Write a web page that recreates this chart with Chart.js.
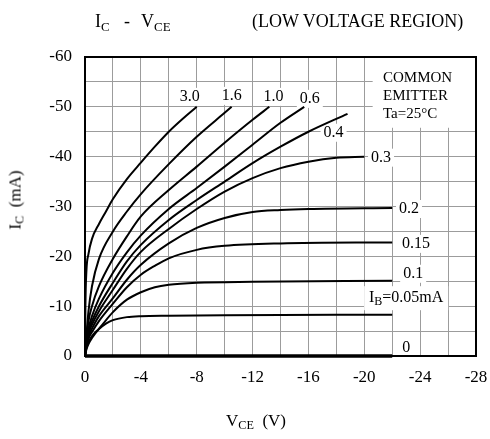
<!DOCTYPE html>
<html>
<head>
<meta charset="utf-8">
<script src="https://cdn.jsdelivr.net/npm/chart.js@4.4.1/dist/chart.umd.min.js"></script>
<style>
  body { margin: 0; background: #fff; }
  #wrap { position: relative; width: 490px; height: 439px; font-family: "Liberation Serif", "Times New Roman", serif; color: #000; }
  #wrap canvas { position: absolute; left: 0; top: 0; }
  .t { position: absolute; white-space: nowrap; line-height: 1; }
  .t sub { font-size: 72%; vertical-align: -0.28em; line-height: 0; }
  .title { font-size: 18px; top: 12px; }
  #ytitle { left: 15px; top: 200px; font-size: 17px; transform: translate(-50%, -50%) rotate(-90deg); }
  #xtitle { left: 256px; top: 420px; font-size: 17px; transform: translate(-50%, -50%); }
</style>
</head>
<body>
<div id="wrap">
  <canvas id="icChart" width="490" height="439"></canvas>
  <span class="t title" style="left:95px">I<sub>C</sub></span>
  <span class="t title" style="left:124px">-</span>
  <span class="t title" style="left:141px">V<sub>CE</sub></span>
  <span class="t title" style="left:252px">(LOW VOLTAGE REGION)</span>
  <span class="t" id="ytitle">I<sub>C</sub>&nbsp;&nbsp;(mA)</span>
  <span class="t" id="xtitle">V<sub>CE</sub>&nbsp;&nbsp;(V)</span>
</div>

<script>
// ===============================
// Data
// ===============================
const vce30 = [0, -0.03, -0.1, -0.25, -0.5, -1, -1.5, -2, -3, -4, -5, -6, -7, -8];
const ic30  = [0, -10, -17, -20.5, -23.5, -26.5, -29, -31.5, -35.5, -38.8, -42, -45, -47.6, -50];

const vce16 = [0, -0.1, -0.25, -0.5, -1, -2, -3, -4, -6, -8, -10, -10.5];
const ic16  = [0, -4, -9, -14, -19.5, -25, -29, -32.5, -38.5, -44, -48.8, -50];

const vce10 = [0, -0.1, -0.25, -0.5, -1, -2, -3, -4, -6, -8, -10, -12, -13.2];
const ic10  = [0, -3.5, -7, -10, -14, -19.5, -24, -28, -33.3, -38, -42.8, -47.4, -50];

const vce06 = [0, -0.1, -0.25, -0.5, -1, -2, -3, -4, -6, -8, -10, -12, -14, -15.7];
const ic06  = [0, -3, -5.5, -8, -11.5, -16.7, -20.8, -24.2, -29.5, -33.7, -38, -42.4, -46.8, -50];

const vce04 = [0, -0.1, -0.25, -0.5, -1, -2, -3, -4, -6, -8, -10, -12, -14, -16, -18.8];
const ic04  = [0, -2.7, -5, -7, -10, -14.7, -19, -22.3, -27.3, -31.3, -35, -38.7, -42, -45, -48.6];

const vce03 = [0, -0.1, -0.25, -0.5, -1, -2, -3, -4, -6, -8, -10, -12, -14, -16, -18, -20];
const ic03  = [0, -2.5, -4.5, -6.3, -9, -13.3, -17.5, -20.9, -25.5, -29.5, -33, -35.7, -37.7, -39, -39.8, -40];

const vce02 = [0, -0.1, -0.25, -0.5, -1, -2, -3, -4, -6, -8, -10, -12, -14, -16, -22];
const ic02  = [0, -2.3, -4, -5.5, -8, -11.6, -15.3, -18.3, -22.6, -25.7, -27.7, -28.9, -29.3, -29.5, -29.7];

const vce015 = [0, -0.1, -0.25, -0.5, -1, -2, -3, -4, -5, -6, -8, -10, -14, -22];
const ic015  = [0, -2, -3.5, -4.8, -7, -10.5, -13.8, -16.3, -18.1, -19.6, -21.3, -22.1, -22.6, -22.8];

const vce01 = [0, -0.1, -0.25, -0.5, -1, -2, -3, -4, -5, -6, -8, -12, -22];
const ic01  = [0, -1.6, -2.8, -4, -5.5, -8.8, -11.3, -12.8, -13.8, -14.3, -14.7, -14.9, -15.1];

const vce005 = [0, -0.1, -0.25, -0.5, -1, -1.5, -2, -3, -4, -6, -10, -22];
const ic005  = [0, -1.3, -2.4, -3.6, -5.4, -6.5, -7.2, -7.8, -8.0, -8.1, -8.2, -8.3];

const vce0 = [0, -22];
const ic0  = [0, 0];

// curve labels (IB in mA) and where they sit, in axis units
const curveLabels = ["3.0", "1.6", "1.0", "0.6", "0.4", "0.3", "0.2", "0.15", "0.1", "0"];
const labelVce    = [-7.5, -10.5, -13.5, -16.1, -17.8, -21.2, -23.2, -23.7, -23.5, -23];
const labelIc     = [-52, -52.2, -52, -51.6, -44.8, -39.8, -29.5, -22.5, -16.5, -1.6];

const legendLines = ["COMMON", "EMITTER", "Ta=25\u00B0C"];

const FONT = '"Liberation Serif", "Times New Roman", serif';

const series = [
  [vce30, ic30], [vce16, ic16], [vce10, ic10], [vce06, ic06], [vce04, ic04],
  [vce03, ic03], [vce02, ic02], [vce015, ic015], [vce01, ic01], [vce005, ic005],
  [vce0, ic0]
];

const datasets = series.map(([xs, ys], k) => ({
  data: xs.map((x, i) => ({ x, y: ys[i] })),
  borderColor: "#000",
  borderWidth: k === series.length - 1 ? 3.5 : 2,
  pointRadius: 0,
  fill: false,
  clip: false,
  cubicInterpolationMode: "monotone"
}));

// ===============================
// Plot frame, white label boxes, annotations
// ===============================
function whiteBox(ctx, cx, cy, w, h) {
  ctx.fillStyle = "#fff";
  ctx.fillRect(cx - w / 2, cy - h / 2, w, h);
}

const annotate = {
  id: "annotate",
  beforeDatasetsDraw(chart) {
    const { ctx, scales: { x, y } } = chart;
    ctx.save();
    ctx.font = "16px " + FONT;
    curveLabels.forEach((t, i) => {
      const w = ctx.measureText(t).width + 6;
      whiteBox(ctx, x.getPixelForValue(labelVce[i]), y.getPixelForValue(labelIc[i]), w, 18);
    });
    // IB = 0.05 mA label box
    whiteBox(ctx, x.getPixelForValue(-23), y.getPixelForValue(-11.6), 84, 24);
    // legend box (top right)
    const x0 = x.getPixelForValue(-20.6), y0 = y.getPixelForValue(-45.8);
    ctx.fillStyle = "#fff";
    ctx.fillRect(x0, chart.chartArea.top, chart.chartArea.right - x0, y0 - chart.chartArea.top);
    ctx.restore();
  },
  afterDatasetsDraw(chart) {
    const { ctx, chartArea: a, scales: { x, y } } = chart;
    ctx.save();
    ctx.strokeStyle = "#000";
    ctx.lineWidth = 2;
    ctx.strokeRect(a.left, a.top, a.right - a.left, a.bottom - a.top);

    ctx.fillStyle = "#000";
    ctx.textAlign = "center";
    ctx.textBaseline = "middle";
    ctx.font = "16px " + FONT;
    curveLabels.forEach((t, i) => {
      ctx.fillText(t, x.getPixelForValue(labelVce[i]), y.getPixelForValue(labelIc[i]));
    });

    // I_B=0.05mA with subscript
    const cx = x.getPixelForValue(-23), cy = y.getPixelForValue(-11.6);
    ctx.textAlign = "left";
    const parts = [["I", 16, 0], ["B", 12, 4], ["=0.05mA", 16, 0]];
    let total = 0;
    parts.forEach(([s, f]) => { ctx.font = f + "px " + FONT; total += ctx.measureText(s).width; });
    let px = cx - total / 2;
    parts.forEach(([s, f, dy]) => {
      ctx.font = f + "px " + FONT;
      ctx.fillText(s, px, cy + dy);
      px += ctx.measureText(s).width;
    });

    // COMMON EMITTER box text
    ctx.font = "15px " + FONT;
    legendLines.forEach((t, i) => ctx.fillText(t, a.right - 93, 78 + i * 18));
    ctx.restore();
  }
};

// ===============================
// Chart
// ===============================
new Chart(document.getElementById("icChart"), {
  type: "line",
  data: { datasets },
  plugins: [annotate],
  options: {
    responsive: false,
    animation: false,
    layout: { padding: { top: 57, right: 14, left: 0, bottom: 0 } },
    plugins: { legend: { display: false }, tooltip: { enabled: false }, title: { display: false } },
    scales: {
      x: {
        type: "linear",
        min: -28,
        max: 0,
        reverse: true,
        afterFit: s => { s.height = 83; s.paddingLeft = 0; s.paddingRight = 0; },
        border: { display: false },
        grid: { color: "#9c9c9c", lineWidth: 1, drawTicks: false },
        ticks: {
          stepSize: 2,
          padding: 11,
          color: "#000",
          font: { family: FONT, size: 17 },
          maxRotation: 0,
          autoSkip: false,
          callback: v => (Math.abs(v % 4) < 1e-9 ? String(v) : "")
        }
      },
      y: {
        type: "linear",
        min: -60,
        max: 0,
        reverse: true,
        afterFit: s => { s.width = 85; s.paddingTop = 0; s.paddingBottom = 0; },
        border: { display: false },
        grid: { color: "#9c9c9c", lineWidth: 1, drawTicks: false },
        ticks: {
          stepSize: 5,
          padding: 13,
          color: "#000",
          font: { family: FONT, size: 17 },
          autoSkip: false,
          callback: v => (Math.abs(v % 10) < 1e-9 ? String(v) : "")
        }
      }
    }
  }
});
</script>
</body>
</html>
